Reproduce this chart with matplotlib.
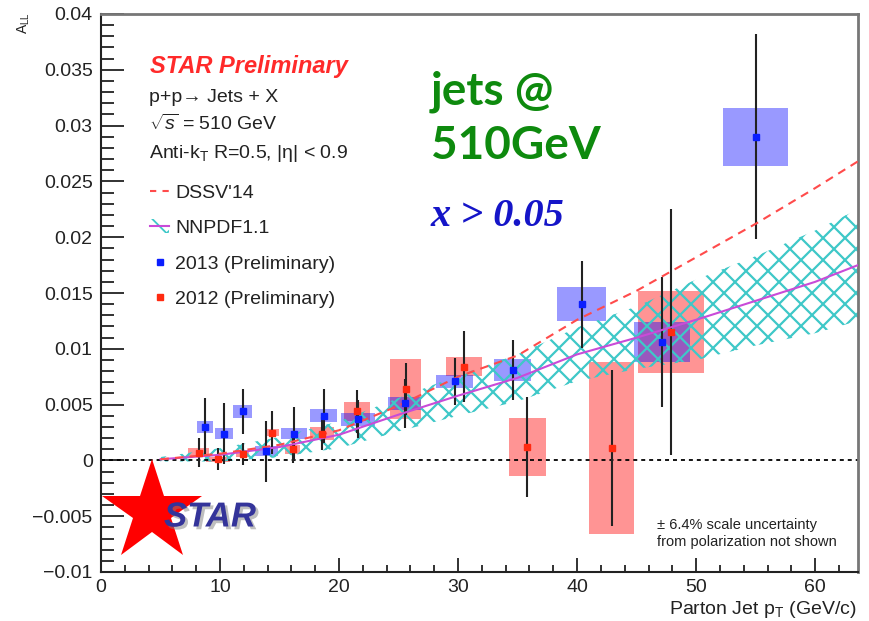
import matplotlib
matplotlib.use("Agg")
import matplotlib.pyplot as plt
import matplotlib.patheffects as pe
import numpy as np
from matplotlib.collections import LineCollection
from matplotlib.lines import Line2D
from matplotlib.patches import Patch
from matplotlib.ticker import MultipleLocator, FuncFormatter
from matplotlib.transforms import IdentityTransform

plt.rcParams["font.family"] = ["Liberation Sans", "DejaVu Sans"]
plt.rcParams["mathtext.fontset"] = "custom"
plt.rcParams["mathtext.rm"] = "Liberation Sans"
plt.rcParams["mathtext.it"] = "Liberation Sans:italic"
plt.rcParams["hatch.linewidth"] = 1.3

# 2013 data: parton jet pT, A_LL, stat error, syst error (y), syst box half width (x)
pt_2013 = [8.7, 10.3, 11.9, 13.9, 16.2, 18.7, 21.6, 25.5, 29.7, 34.6, 40.4, 47.1, 55.0]
all_2013 = [0.0030, 0.0024, 0.0044, 0.0008, 0.0024, 0.0040, 0.0037, 0.0051, 0.0071, 0.0081, 0.0140, 0.0106, 0.0290]
stat_2013 = [0.0026, 0.0027, 0.0020, 0.0027, 0.0024, 0.0024, 0.0017, 0.0022, 0.0021, 0.0027, 0.0039, 0.0058, 0.0092]
sys_2013 = [0.00054, 0.0005, 0.00058, 0.00045, 0.0005, 0.00058, 0.00058, 0.00058, 0.00058, 0.0010, 0.0015, 0.0018, 0.0026]
ptsys_2013 = [0.67, 0.75, 0.8, 1.0, 1.1, 1.15, 1.4, 1.4, 1.55, 1.55, 2.05, 2.35, 2.75]

# 2012 data
pt_2012 = [8.2, 9.8, 11.9, 14.4, 16.1, 18.6, 21.5, 25.6, 30.5, 35.8, 42.9, 47.9]
all_2012 = [0.0007, 0.0001, 0.0006, 0.0025, 0.0010, 0.0024, 0.0044, 0.0064, 0.0084, 0.0012, 0.0011, 0.0115]
stat_2012 = [0.0013, 0.0010, 0.0010, 0.0019, 0.0012, 0.0015, 0.0019, 0.0023, 0.0032, 0.0045, 0.0070, 0.0110]
sys_2012 = [0.0004, 0.0002, 0.0003, 0.0003, 0.0004, 0.0006, 0.00085, 0.0027, 0.00085, 0.0026, 0.0077, 0.0037]
ptsys_2012 = [0.85, 1.0, 0.55, 0.55, 0.6, 1.0, 1.1, 1.3, 1.5, 1.55, 1.9, 2.8]

# theory curves
theory_pt = [5, 10, 15, 20, 25, 30, 35, 40, 45, 50, 55, 60, 63.6]
dssv14 = [0.0001, 0.0006, 0.0014, 0.0027, 0.0049, 0.0075, 0.0094, 0.0126, 0.0152, 0.0182, 0.0212, 0.0244, 0.0268]
nnpdf11 = [0.0001, 0.0005, 0.0012, 0.0023, 0.0041, 0.0058, 0.0074, 0.0095, 0.0110, 0.0126, 0.0143, 0.0160, 0.0175]
nnpdf11_err = [0.0002, 0.0006, 0.0009, 0.0012, 0.0015, 0.0018, 0.0021, 0.0024, 0.0028, 0.0036, 0.0040, 0.0046, 0.0050]

BLUE = "#0a1eff"
RED = "#ff2a10"
DSSV_COLOR = "#ff4b4b"
NNPDF_COLOR = "#c94bd8"
HATCH_COLOR = "#3ec8c8"

W, H = 869, 621


def fpos(x, y):
    return x / W, 1 - y / H


fig = plt.figure(figsize=(W / 100, H / 100), dpi=100)
ax = fig.add_axes([101 / W, 1 - 572 / H, (858 - 101) / W, (572 - 14) / H])
ax.set_xlim(0, 63.6)
ax.set_ylim(-0.01, 0.04)

# systematic boxes
a12 = np.array(all_2012)
s12 = np.array(sys_2012)
ax.bar(pt_2012, 2 * s12, width=2 * np.array(ptsys_2012), bottom=a12 - s12,
       color="red", alpha=0.42, linewidth=0, zorder=1)
a13 = np.array(all_2013)
s13 = np.array(sys_2013)
ax.bar(pt_2013, 2 * s13, width=2 * np.array(ptsys_2013), bottom=a13 - s13,
       color="blue", alpha=0.4, linewidth=0, zorder=1)

# NNPDF uncertainty band, cross-hatched with 45 degree lines clipped to the band
nn = np.array(nnpdf11)
nn_err = np.array(nnpdf11_err)
band = ax.fill_between(theory_pt, nn - nn_err, nn + nn_err, facecolor="none",
                       linewidth=0, zorder=2)
x0, y0, x1, y1 = ax.bbox.extents
span = y1 - y0
step = 22
segs = []
for c in np.arange(x0 - span, x1 + step, step):
    segs.append([(c, y0), (c + span, y1)])
    segs.append([(c, y1), (c + span, y0)])
hatch = LineCollection(segs, colors=HATCH_COLOR, linewidths=1.6,
                       transform=IdentityTransform(), zorder=2)
ax.add_collection(hatch, autolim=False)
hatch.set_clip_path(band.get_paths()[0], ax.transData)

ax.axhline(0, color="black", lw=1.3, ls=(0, (2.2, 2.2)), zorder=2)

# statistical errors
ax.errorbar(pt_2012, all_2012, yerr=stat_2012, fmt="none", ecolor="#222222",
            elinewidth=1.5, capsize=0, zorder=3)
ax.errorbar(pt_2013, all_2013, yerr=stat_2013, fmt="none", ecolor="#222222",
            elinewidth=1.5, capsize=0, zorder=3)

ax.plot(theory_pt, nnpdf11, color=NNPDF_COLOR, lw=1.5, zorder=4)
ax.plot(theory_pt, dssv14, color=DSSV_COLOR, lw=1.5, ls=(0, (4, 3)), zorder=4)

ax.plot(pt_2012, all_2012, "s", ms=4.5, color=RED, zorder=5)
ax.plot(pt_2013, all_2013, "s", ms=4.5, color=BLUE, zorder=5)

# axes styling
ax.xaxis.set_major_locator(MultipleLocator(10))
ax.xaxis.set_minor_locator(MultipleLocator(2))
ax.yaxis.set_major_locator(MultipleLocator(0.005))
ax.yaxis.set_minor_locator(MultipleLocator(0.001))
ax.yaxis.set_major_formatter(FuncFormatter(
    lambda v, _: "0" if abs(v) < 1e-9 else f"{v:g}".replace("-", "\u2212")))
ax.tick_params(which="both", direction="in", top=False, right=False,
               colors="#222222", labelsize=14, width=1.3)
ax.tick_params(axis="y", which="major", length=16.5, pad=6)
ax.tick_params(axis="y", which="minor", length=9)
ax.tick_params(axis="x", which="major", length=10, pad=5)
ax.tick_params(axis="x", which="minor", length=5)
for side in ("left", "bottom"):
    ax.spines[side].set_linewidth(1.5)
    ax.spines[side].set_color("#222222")
for side in ("top", "right"):
    ax.spines[side].set_linewidth(2)
    ax.spines[side].set_color("#777777")

fig.text(*fpos(669, 609), r"Parton Jet p$_\mathrm{T}$ (GeV/c)", fontsize=14,
         ha="left", va="center", color="#222222")
fig.text(*fpos(24, 12), r"A$_\mathrm{LL}$", fontsize=10, rotation=90,
         ha="center", va="top", color="#222222")

# header block
fig.text(*fpos(150, 66), "STAR Preliminary", fontsize=17, fontweight="bold",
         fontstyle="italic", color="#ff2a2a", va="center")
fig.text(*fpos(149, 97), "p+p\u2192 Jets + X", fontsize=14, va="center", color="#222222")
fig.text(*fpos(149, 124), r"$\sqrt{s}$ = 510 GeV", fontsize=14, va="center", color="#222222")
fig.text(*fpos(149, 153), r"Anti-k$_\mathrm{T}$ R=0.5, |η| < 0.9", fontsize=14,
         va="center", color="#222222")

handles = [
    Line2D([], [], color=DSSV_COLOR, lw=1.5, ls=(0, (3, 3))),
    (Patch(facecolor="none", edgecolor=HATCH_COLOR, hatch="x", linewidth=0),
     Line2D([], [], color=NNPDF_COLOR, lw=1.5)),
    Line2D([], [], ls="none", marker="s", ms=4.5, color=BLUE),
    Line2D([], [], ls="none", marker="s", ms=4.5, color=RED),
]
labels = ["DSSV'14", "NNPDF1.1", "2013 (Preliminary)", "2012 (Preliminary)"]
fig.legend(handles, labels, loc="upper left", bbox_to_anchor=fpos(150, 184),
           frameon=False, fontsize=14, handlelength=1.0, handletextpad=0.3,
           labelspacing=0.92, borderpad=0, borderaxespad=0, labelcolor="#222222")

fig.text(*fpos(431, 92), "jets @", fontsize=33, fontfamily="Lato", fontweight="bold",
         color="#0e8a0e", va="center")
fig.text(*fpos(431, 146), "510GeV", fontsize=33, fontfamily="Lato", fontweight="bold",
         color="#0e8a0e", va="center")
fig.text(*fpos(431, 216), "x > 0.05", fontsize=29, fontfamily="Liberation Serif",
         fontweight="bold", fontstyle="italic", color="#1515c8", va="center")

fig.text(*fpos(657, 525), "\u00b1 6.4% scale uncertainty", fontsize=10.5,
         va="center", color="#222222")
fig.text(*fpos(657, 542), "from polarization not shown", fontsize=10.5,
         va="center", color="#222222")

# STAR logo
ax.plot(*fpos(152, 512), marker="*", ms=76, color="red", mew=0,
        transform=fig.transFigure, clip_on=False, zorder=6)
fig.text(*fpos(164, 517), "STAR", fontsize=25, fontweight="bold", fontstyle="italic",
         color="#34349a", va="center", zorder=7,
         path_effects=[pe.withSimplePatchShadow(offset=(2, -2), shadow_rgbFace="gray", alpha=0.5)])

fig.savefig("out.png", dpi=100)
